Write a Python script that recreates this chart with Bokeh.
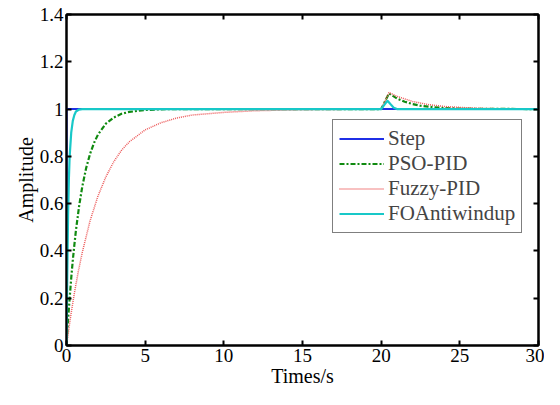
from bokeh.plotting import figure
from bokeh.models import Range1d, LinearAxis, FixedTicker
from bokeh.embed import file_html
from bokeh.resources import INLINE

# ---- data ----
step_t = [0.0, 0.0, 30.0]
step_y = [0.0, 1.0, 1.0]

pso_t = [0.0, 0.1, 0.2, 0.3, 0.4, 0.5, 0.6, 0.8, 1.0, 1.25, 1.5, 1.75, 2.0, 2.5, 3.0,
         3.5, 4.0, 5.0, 6.0, 8.0, 20.0, 20.5, 21.0, 21.5, 22.0, 22.5, 23.0, 24.0,
         25.0, 26.0, 30.0]
pso_y = [0.0, 0.11, 0.20, 0.285, 0.36, 0.426, 0.487, 0.589, 0.671, 0.751, 0.811,
         0.857, 0.892, 0.938, 0.964, 0.980, 0.988, 0.996, 0.999, 1.0, 1.0, 1.066,
         1.045, 1.031, 1.021, 1.014, 1.010, 1.004, 1.002, 1.001, 1.0]

fuzzy_t = [0.0, 0.25, 0.5, 0.75, 1.0, 1.5, 2.0, 2.5, 3.0, 3.5, 4.0, 5.0, 6.0, 7.0,
           8.0, 10.0, 12.0, 14.0, 16.0, 18.0, 20.0, 20.5, 21.0, 22.0, 23.0, 24.0,
           25.0, 26.0, 27.0, 28.0, 30.0]
fuzzy_y = [0.0, 0.118, 0.221, 0.313, 0.393, 0.528, 0.632, 0.713, 0.777, 0.826,
           0.862, 0.912, 0.942, 0.962, 0.975, 0.986, 0.993, 0.996, 0.998, 0.999,
           1.0, 1.07, 1.054, 1.032, 1.019, 1.011, 1.007, 1.004, 1.002, 1.001, 1.0]

foa_t = [0.0, 0.05, 0.1, 0.15, 0.2, 0.3, 0.4, 0.5, 0.6, 0.8, 1.0, 20.0, 20.2,
         20.4, 20.6, 20.8, 21.0, 30.0]
foa_y = [0.0, 0.30, 0.55, 0.70, 0.80, 0.90, 0.95, 0.975, 0.99, 0.998, 1.0, 1.0,
         1.018, 1.035, 1.02, 1.006, 1.0, 1.0]

x_ticks = [0, 5, 10, 15, 20, 25, 30]
x_tick_labels = ["0", "5", "10", "15", "20", "25", "30"]
y_ticks = [0, 0.2, 0.4, 0.6, 0.8, 1.0, 1.2, 1.4]
y_tick_labels = ["0", "0.2", "0.4", "0.6", "0.8", "1", "1.2", "1.4"]

FONT = "Liberation Serif"

p = figure(width=544, height=389, output_backend="svg", toolbar_location=None,
           x_range=Range1d(0, 30), y_range=Range1d(0, 1.4),
           min_border_left=66, min_border_right=6, min_border_top=14,
           min_border_bottom=44, x_axis_label="Times/s", y_axis_label="Amplitude")

p.line(step_t, step_y, color="#1f2fe6", line_width=2, legend_label="Step")
p.line(pso_t, pso_y, color="#108a10", line_width=2.2, line_dash="5 2 2 2",
       legend_label="PSO-PID")
p.line(fuzzy_t, fuzzy_y, color="#ec5a5a", line_width=1.5, line_dash="1 1",
       legend_label="Fuzzy-PID")
p.line(foa_t, foa_y, color="#18c8c8", line_width=2.2, legend_label="FOAntiwindup")

p.xgrid.visible = False
p.ygrid.visible = False
p.outline_line_color = "black"
p.outline_line_width = 2
p.background_fill_color = "white"
p.border_fill_color = "white"

for ax, ticks, labels in [(p.xaxis[0], x_ticks, x_tick_labels),
                          (p.yaxis[0], y_ticks, y_tick_labels)]:
    ax.ticker = FixedTicker(ticks=ticks)
    ax.major_label_overrides = {t: l for t, l in zip(ticks, labels)}
    ax.major_tick_in = 5
    ax.major_tick_out = 0
    ax.minor_tick_line_color = None
    ax.axis_line_width = 2
    ax.major_tick_line_width = 2
    ax.major_label_text_font = FONT
    ax.major_label_text_font_size = "19px"
    ax.major_label_text_color = "black"
    ax.axis_label_text_font = FONT
    ax.axis_label_text_font_size = "20px"
    ax.axis_label_text_font_style = "normal"
    ax.axis_label_text_color = "black"
    ax.major_label_standoff = 3
    ax.axis_label_standoff = 0

top = LinearAxis(ticker=FixedTicker(ticks=x_ticks),
                 major_label_overrides={t: "" for t in x_ticks},
                 major_tick_in=5, major_tick_out=0, minor_tick_line_color=None,
                 axis_line_width=2, major_tick_line_width=2, major_label_standoff=0)
right = LinearAxis(ticker=FixedTicker(ticks=y_ticks),
                   major_label_overrides={t: "" for t in y_ticks},
                   major_tick_in=5, major_tick_out=0, minor_tick_line_color=None,
                   axis_line_width=2, major_tick_line_width=2, major_label_standoff=0)
p.add_layout(top, "above")
p.add_layout(right, "right")

lg = p.legend[0]
lg.location = (266, 112)
lg.border_line_color = "black"
lg.border_line_width = 1.5
lg.background_fill_color = "white"
lg.background_fill_alpha = 1
lg.label_text_font = FONT
lg.label_text_font_size = "21px"
lg.glyph_width = 45
lg.glyph_height = 23
lg.label_height = 23
lg.label_standoff = 4
lg.spacing = 0
lg.padding = 6
lg.margin = 0

open("out.html", "w").write(file_html(p, INLINE))
